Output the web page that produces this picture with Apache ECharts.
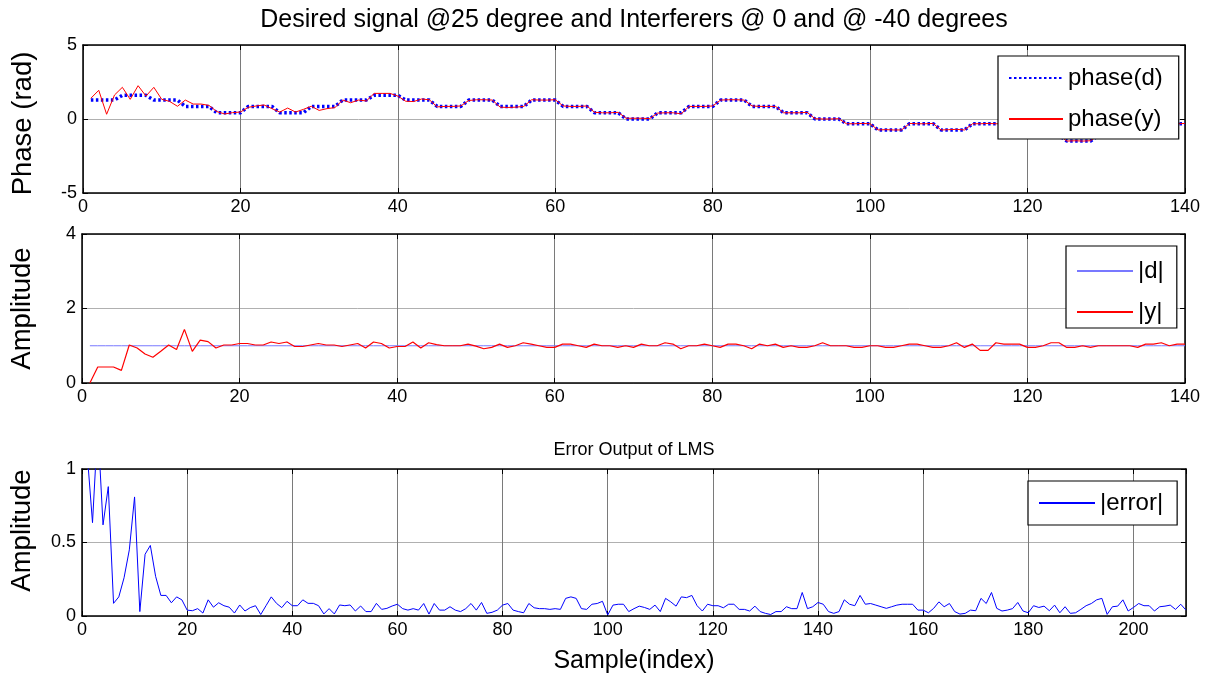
<!DOCTYPE html>
<html>
<head>
<meta charset="utf-8">
<script src="https://cdn.jsdelivr.net/npm/echarts@6/dist/echarts.min.js"></script>
<style>
html,body{margin:0;padding:0;background:#fff;}
#chart{width:1216px;height:683px;}
</style>
</head>
<body>
<div id="chart"></div>
<script>
// ---------- DATA ----------
const chartTitle = 'Desired signal @25 degree and Interferers @ 0 and @ -40 degrees';
const errTitle = 'Error Output of LMS';
const xName = 'Sample(index)';
const seriesNames = ['phase(d)', 'phase(y)', '|d|', '|y|', '|error|'];

// phase of desired signal (rad), samples 1..140
const phaseD = [
  1.28,1.28,1.28,1.28, 1.6,1.6,1.6,1.6, 1.28,1.28,1.28,1.28, 0.85,0.85,0.85,0.85,
  0.42,0.42,0.42,0.42, 0.85,0.85,0.85,0.85, 0.42,0.42,0.42,0.42, 0.85,0.85,0.85,0.85,
  1.28,1.28,1.28,1.28, 1.6,1.6,1.6,1.6, 1.28,1.28,1.28,1.28, 0.85,0.85,0.85,0.85,
  1.28,1.28,1.28,1.28, 0.85,0.85,0.85,0.85, 1.28,1.28,1.28,1.28, 0.85,0.85,0.85,0.85,
  0.42,0.42,0.42,0.42, 0,0,0,0, 0.42,0.42,0.42,0.42, 0.85,0.85,0.85,0.85,
  1.28,1.28,1.28,1.28, 0.85,0.85,0.85,0.85, 0.42,0.42,0.42,0.42, 0,0,0,0,
  -0.32,-0.32,-0.32,-0.32, -0.74,-0.74,-0.74,-0.74, -0.32,-0.32,-0.32,-0.32, -0.74,-0.74,-0.74,-0.74,
  -0.32,-0.32,-0.32,-0.32, -0.32,-0.32,-0.32,-0.32, -1.1,-1.1,-1.1,-1.1, -1.49,-1.49,-1.49,-1.49,
  -1.1,-1.1,-1.1,-1.1, -0.74,-0.74,-0.74,-0.74, -0.32,-0.32,-0.32,-0.32
];
// phase of array output (rad), samples 1..140
const phaseY = [
  1.4,1.94,0.32,1.62,2.14,1.33,2.25,1.55,2.14,1.33,
  1.19,0.86,1.28,1.01,1.01,0.92,0.5,0.34,0.43,0.47,
  0.79,0.88,0.95,0.7,0.47,0.74,0.47,0.65,0.86,0.58,
  0.7,0.77,1.28,1.1,1.28,1.22,1.73,1.73,1.73,1.55,
  1.2,1.18,1.35,1.3,0.82,0.85,0.85,0.88,1.25,1.3,
  1.3,1.28,0.8,0.78,0.8,0.85,1.3,1.28,1.28,1.3,
  0.88,0.85,0.85,0.88,0.45,0.42,0.42,0.45,0.05,0.05,
  0.05,0.03,0.4,0.42,0.42,0.35,0.85,0.85,0.85,0.88,
  1.28,1.3,1.3,1.28,0.88,0.85,0.85,0.85,0.42,0.42,
  0.42,0.45,0.02,0,0,0.02,-0.32,-0.32,-0.3,-0.32,
  -0.74,-0.72,-0.74,-0.74,-0.3,-0.32,-0.32,-0.3,-0.74,-0.72,
  -0.7,-0.74,-0.32,-0.32,-0.3,-0.32,-0.32,-0.3,-0.32,-0.32,
  -1.1,-1.1,-1.08,-1.1,-1.49,-1.47,-1.49,-1.47,-1.1,-1.1,
  -1.12,-1.1,-0.74,-0.74,-0.72,-0.74,-0.32,-0.3,-0.32,-0.3
];
// |d|, samples 1..140
const ampD = [
  1,1,1,1,1,1,1,1,1,1, 1,1,1,1,1,1,1,1,1,1, 1,1,1,1,1,1,1,1,1,1, 1,1,1,1,1,1,1,1,1,1,
  1,1,1,1,1,1,1,1,1,1, 1,1,1,1,1,1,1,1,1,1, 1,1,1,1,1,1,1,1,1,1, 1,1,1,1,1,1,1,1,1,1,
  1,1,1,1,1,1,1,1,1,1, 1,1,1,1,1,1,1,1,1,1, 1,1,1,1,1,1,1,1,1,1, 1,1,1,1,1,1,1,1,1,1,
  1,1,1,1,1,1,1,1,1,1, 1,1,1,1,1,1,1,1,1,1
];
// |y|, samples 1..140
const ampY = [
  0,0.43,0.43,0.43,0.34,1.02,0.94,0.78,0.69,0.85,
  1.02,0.9,1.44,0.85,1.15,1.11,0.94,1.02,1.02,1.06,
  1.06,1.02,1.02,1.1,1.06,1.1,0.98,0.98,1.02,1.06,
  1.02,1.02,0.98,1.02,1.06,0.94,1.1,1.06,0.94,0.98,
  0.98,1.1,0.94,1.08,1.03,1.0,1.0,1.0,1.045,0.99,
  0.92,0.955,1.045,0.955,1.0,1.08,1.045,1.0,0.955,0.955,
  1.045,1.045,1.0,0.955,1.045,1.0,1.0,0.955,1.0,0.955,
  1.045,1.0,1.0,1.08,1.045,0.92,1.0,1.0,1.045,1.0,
  0.955,1.045,1.045,1.0,0.92,1.045,1.0,1.045,0.955,1.0,
  0.955,0.955,1.0,1.08,1.0,1.0,1.0,0.955,0.955,1.0,
  1.0,0.955,0.955,1.0,1.045,1.045,1.0,0.955,0.955,1.0,
  1.08,0.955,1.045,0.875,0.875,1.08,1.045,1.045,1.045,0.955,
  0.955,1.0,1.08,1.08,0.955,0.955,1.0,0.955,1.0,1.0,
  1.0,1.0,1.0,0.955,1.045,1.045,1.08,1.0,1.045,1.045
];
// |error| of LMS, samples 1..210
const errMag = [
  1.1,0.635,1.3,0.62,0.88,0.086,0.13,0.26,0.45,0.81,
  0.03,0.42,0.48,0.27,0.14,0.14,0.09,0.13,0.11,0.04,
  0.036,0.05,0.02,0.11,0.06,0.09,0.07,0.06,0.02,0.075,
  0.034,0.057,0.07,0.01,0.07,0.13,0.086,0.057,0.1,0.07,
  0.07,0.11,0.086,0.086,0.07,0.014,0.05,0.014,0.075,0.07,
  0.075,0.034,0.068,0.03,0.03,0.086,0.045,0.052,0.068,0.08,
  0.05,0.04,0.05,0.04,0.085,0.013,0.085,0.04,0.04,0.063,
  0.04,0.03,0.05,0.085,0.04,0.092,0.018,0.025,0.04,0.074,
  0.085,0.04,0.03,0.022,0.085,0.056,0.05,0.05,0.045,0.05,
  0.045,0.12,0.13,0.12,0.05,0.045,0.08,0.085,0.1,0.007,
  0.074,0.08,0.08,0.03,0.05,0.067,0.058,0.045,0.074,0.03,
  0.12,0.096,0.067,0.13,0.125,0.14,0.07,0.034,0.08,0.07,
  0.07,0.056,0.08,0.08,0.045,0.045,0.034,0.067,0.03,0.018,
  0.01,0.03,0.03,0.063,0.05,0.05,0.16,0.05,0.063,0.092,
  0.08,0.03,0.018,0.03,0.11,0.08,0.07,0.14,0.08,0.085,
  0.074,0.063,0.052,0.063,0.074,0.08,0.08,0.08,0.04,0.04,
  0.022,0.052,0.096,0.063,0.085,0.03,0.013,0.018,0.04,0.036,
  0.12,0.085,0.16,0.052,0.034,0.04,0.05,0.092,0.034,0.022,
  0.07,0.058,0.067,0.036,0.074,0.022,0.063,0.018,0.022,0.045,
  0.07,0.085,0.11,0.12,0.011,0.063,0.067,0.11,0.034,0.058,
  0.085,0.07,0.07,0.034,0.063,0.067,0.074,0.045,0.08,0.04
];
// axis ranges / ticks
const phaseAxis = {min: -5, max: 5, interval: 5};
const ampAxis = {min: 0, max: 4, interval: 2};
const errAxis = {min: 0, max: 1, interval: 0.5};
const xAxisTop = {min: 0, max: 140, interval: 20};
const xAxisErr = {min: 0, max: 210, interval: 20};

// ---------- CHART ----------
const FONT = 'Liberation Sans, Arial, Helvetica, sans-serif';
const withIdx = arr => arr.map((v, i) => [i + 1, v]);

function xBottom(grid, rng, extra) {
  return Object.assign({
    type: 'value', gridIndex: grid, position: 'bottom',
    min: rng.min, max: rng.max, interval: rng.interval,
    axisLine: {show: true, onZero: false, lineStyle: {color: '#000', width: 1.5}},
    axisTick: {show: true, inside: true, length: 5, lineStyle: {color: '#000'}},
    axisLabel: {color: '#000', fontSize: 18, fontFamily: FONT, margin: 5, showMaxLabel: rng.max % rng.interval === 0},
    splitLine: {show: true, lineStyle: {color: '#7a7a7a', width: 1}}
  }, extra || {});
}
function xTop(grid, rng, extra) {
  return Object.assign({
    type: 'value', gridIndex: grid, position: 'top',
    min: rng.min, max: rng.max, interval: rng.interval,
    axisLine: {show: true, onZero: false, lineStyle: {color: '#000', width: 1.5}},
    axisTick: {show: true, inside: true, length: 5, lineStyle: {color: '#000'}},
    axisLabel: {show: false},
    splitLine: {show: false}
  }, extra || {});
}
function yLeft(grid, rng, extra) {
  return Object.assign({
    type: 'value', gridIndex: grid, position: 'left',
    min: rng.min, max: rng.max, interval: rng.interval,
    axisLine: {show: true, onZero: false, lineStyle: {color: '#000', width: 1.5}},
    axisTick: {show: true, inside: true, length: 5, lineStyle: {color: '#000'}},
    axisLabel: {color: '#000', fontSize: 18, fontFamily: FONT, margin: 6},
    splitLine: {show: true, lineStyle: {color: '#b0b0b0', width: 1}}
  }, extra || {});
}
function yRight(grid, rng) {
  return {
    type: 'value', gridIndex: grid, position: 'right',
    min: rng.min, max: rng.max, interval: rng.interval,
    axisLine: {show: true, onZero: false, lineStyle: {color: '#000', width: 1.5}},
    axisTick: {show: true, inside: true, length: 5, lineStyle: {color: '#000'}},
    axisLabel: {show: false},
    splitLine: {show: false}
  };
}
function yName(padding) {
  return {color: '#000', fontSize: 27.5, fontFamily: FONT, padding: padding};
}

const legendBase = {
  orient: 'vertical', backgroundColor: '#fff', borderColor: '#000', borderWidth: 1.2,
  borderRadius: 0, itemWidth: 54, itemHeight: 14,
  itemStyle: {opacity: 0, borderWidth: 0},
  textStyle: {color: '#000', fontSize: 24, fontFamily: FONT}
};

const option = {
  animation: false,
  backgroundColor: '#fff',
  grid: [
    {left: 83, top: 45, width: 1102, height: 148},
    {left: 82, top: 234, width: 1103, height: 149},
    {left: 82, top: 469, width: 1104, height: 147}
  ],
  xAxis: [
    xBottom(0, xAxisTop),
    xTop(0, xAxisTop, {name: chartTitle, nameLocation: 'middle', nameGap: 12,
      nameTextStyle: {color: '#000', fontSize: 25, fontFamily: FONT}}),
    xBottom(1, xAxisTop),
    xTop(1, xAxisTop),
    xBottom(2, xAxisErr, {name: xName, nameLocation: 'middle', nameGap: 33,
      nameTextStyle: {color: '#000', fontSize: 25, fontFamily: FONT}}),
    xTop(2, xAxisErr, {name: errTitle, nameLocation: 'middle', nameGap: 10,
      nameTextStyle: {color: '#000', fontSize: 18, fontFamily: FONT}})
  ],
  yAxis: [
    yLeft(0, phaseAxis, {name: 'Phase (rad)', nameLocation: 'middle', nameGap: 46, nameTextStyle: yName([0, 9, 0, 0])}),
    yRight(0, phaseAxis),
    yLeft(1, ampAxis, {name: 'Amplitude', nameLocation: 'middle', nameGap: 46, nameTextStyle: yName([0, 0, 0, 0])}),
    yRight(1, ampAxis),
    yLeft(2, errAxis, {name: 'Amplitude', nameLocation: 'middle', nameGap: 46, nameTextStyle: yName([0, 0, 0, 24])}),
    yRight(2, errAxis)
  ],
  legend: [
    Object.assign({}, legendBase, {data: [seriesNames[0], seriesNames[1]], left: 998, top: 56,
      padding: [10, 16, 8, 10], itemGap: 17}),
    Object.assign({}, legendBase, {data: [seriesNames[2], seriesNames[3]], left: 1066, top: 246,
      padding: [13, 13, 4, 10], itemWidth: 56, itemGap: 17}),
    Object.assign({}, legendBase, {data: [seriesNames[4]], left: 1028, top: 481,
      padding: [10, 14, 10, 10], itemWidth: 56})
  ],
  series: [
    {name: seriesNames[0], type: 'line', xAxisIndex: 0, yAxisIndex: 0, data: withIdx(phaseD),
      symbol: 'none', lineStyle: {color: '#0000ff', width: 3.5, type: [2.5, 2.5]}, itemStyle: {color: '#0000ff'}},
    {name: seriesNames[1], type: 'line', xAxisIndex: 0, yAxisIndex: 0, data: withIdx(phaseY),
      symbol: 'none', lineStyle: {color: '#ff0000', width: 1}, itemStyle: {color: '#ff0000'}},
    {name: seriesNames[2], type: 'line', xAxisIndex: 2, yAxisIndex: 2, data: withIdx(ampD),
      symbol: 'none', lineStyle: {color: '#7878ff', width: 1}, itemStyle: {color: '#7878ff'}},
    {name: seriesNames[3], type: 'line', xAxisIndex: 2, yAxisIndex: 2, data: withIdx(ampY),
      symbol: 'none', lineStyle: {color: '#ff0000', width: 1.2}, itemStyle: {color: '#ff0000'}},
    {name: seriesNames[4], type: 'line', xAxisIndex: 4, yAxisIndex: 4, data: withIdx(errMag),
      symbol: 'none', lineStyle: {color: '#0000ff', width: 1}, itemStyle: {color: '#0000ff'}}
  ]
};

const chart = echarts.init(document.getElementById('chart'));
chart.setOption(option);
</script>
</body>
</html>
